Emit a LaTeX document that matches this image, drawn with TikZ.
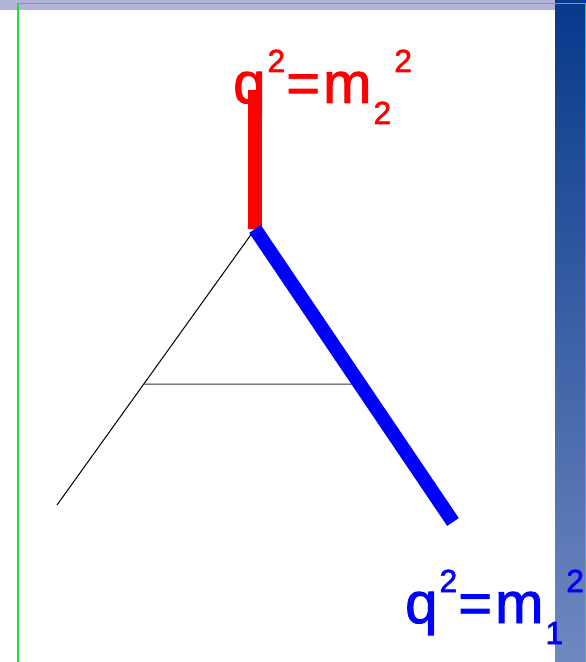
\documentclass[tikz,border=0pt]{standalone}
\usepackage{fontspec}
\setmainfont{Liberation Sans}
\newfontfamily\labelfont[FakeBold=1.6]{Liberation Sans}
\usetikzlibrary{calc}
\definecolor{SlideLilac}{HTML}{B3B3D9}
\definecolor{SlideGreen}{HTML}{22DD44}
\definecolor{BarTop}{HTML}{06398B}
\definecolor{BarBottom}{HTML}{7088C0}
\definecolor{LegRed}{HTML}{FF0000}
\definecolor{LegBlue}{HTML}{0000FF}
\newcommand{\supsize}{\fontsize{32bp}{32bp}\selectfont}
\newcommand{\masslabel}[1]{q\hspace{2bp}\raisebox{31bp}{\supsize 2}\hspace{1bp}=\hspace{3bp}m\hspace{2bp}\raisebox{-21bp}{\supsize #1}\hspace{3bp}\raisebox{31bp}{\supsize 2}}

\begin{document}
\begin{tikzpicture}[x=1bp,y=-1bp,
  leg/.style={line width=14bp},
  thinline/.style={line width=1bp,black},
  masstext/.style={anchor=base west,inner sep=0pt,font=\labelfont\fontsize{58bp}{58bp}\selectfont}]
  \useasboundingbox (0,0) rectangle (586,662);
  % slide frame
  \fill[white] (0,0) rectangle (586,662);
  \fill[SlideLilac] (0,0) rectangle (555,10.5);
  \shade[top color=BarTop,bottom color=BarBottom] (555,0) rectangle (586,662);
  \draw[SlideGreen,line width=1.6bp] (18,662) -- (18,3.5) -- (586,3.5);
  \draw[SlideGreen,line width=1.2bp] (585.4,3.5) -- (585.4,662);

  \coordinate (v) at (255,229);
  \coordinate (top) at (255,90);
  \coordinate (p1) at (453,522);
  \coordinate (p3) at (57,505);
  \coordinate (l) at ($(v)!.5616!(p3)$);
  \coordinate (r) at ($(v)!.529!(p1)$);

  \draw[thinline] (v) -- (p3);
  \draw[thinline,black!80] (l) -- (r);
  \draw[leg,LegRed] (top) -- (v);
  \draw[leg,LegBlue] (v) -- (p1);

  \node[masstext,text=LegRed] (m2) at (233,103) {\masslabel{2}};
  \node[masstext,text=LegBlue] (m1) at (405,623) {\masslabel{1}};
\end{tikzpicture}
\end{document}
